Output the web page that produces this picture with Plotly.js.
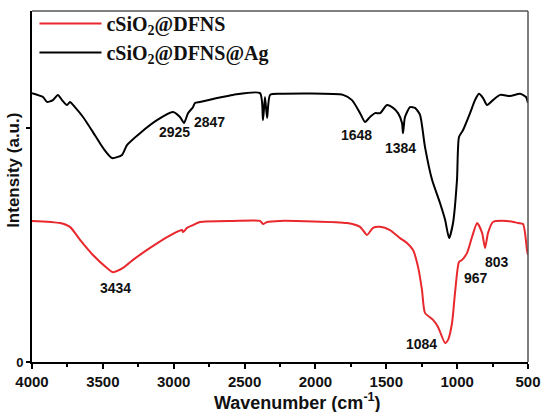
<!DOCTYPE html>
<html>
<head>
<meta charset="utf-8">
<script src="https://cdn.plot.ly/plotly-3.0.1.min.js"></script>
<style>html,body{margin:0;padding:0;background:#fff;}#chart{width:541px;height:412px;}</style>
</head>
<body>
<div id="chart"></div>
<script>
// Wavenumbers (cm-1) and intensities (a.u.)
var wnAg = [4000,3922,3894,3852,3817,3788,3753,3732,3697,3640,3570,3499,3435,3365,3330,3238,3118,3005,2956,2927,2899,2864,2850,2815,2694,2581,2391,2370,2356,2341,2320,2250,1805,1742,1685,1650,1615,1579,1544,1495,1452,1417,1389,1382,1368,1332,1297,1262,1227,1177,1121,1085,1057,1029,1001,987,958,909,874,846,817,789,747,697,627,556,514,500];
var intAg = [76.6,75.5,74.1,74.6,76.1,74.6,73.2,74.1,72.6,69.8,65.5,61.0,58.1,59.0,61.8,65.2,68.9,71.2,69.8,68.1,70.9,72.6,73.8,74.1,75.2,76.1,76.6,68.9,75.5,69.5,76.1,76.4,76.1,74.6,70.9,68.4,69.8,70.9,70.9,73.2,72.4,70.9,68.1,65.2,69.8,72.6,72.4,70.4,61.3,51.9,45.3,40.5,35.3,39.6,51.9,64.1,66.1,70.9,74.6,76.4,75.2,73.2,74.6,76.1,75.8,76.4,75.5,73.8];

var wnSi = [4000,3802,3732,3661,3570,3471,3428,3358,3287,3167,3047,2941,2934,2906,2864,2815,2581,2391,2370,2341,2250,1777,1685,1636,1594,1544,1474,1403,1354,1311,1276,1248,1227,1170,1135,1085,1064,1036,1015,987,965,930,895,859,824,803,782,747,648,570,535,507,500];
var intSi = [40.2,39.6,38.5,34.8,30.5,26.8,25.6,26.8,29.1,32.5,35.6,37.6,37.0,38.2,39.0,39.9,40.2,40.2,39.3,39.9,40.2,39.6,38.5,36.2,38.2,38.5,37.6,35.3,33.9,31.9,27.1,20.5,14.0,12.0,10.0,5.4,6.3,11.1,19.7,28.5,29.1,31.1,35.6,39.6,36.8,32.5,36.8,39.9,40.2,39.6,39.3,31.9,30.5];

var seriesNames = ['cSiO<sub>2</sub>@DFNS', 'cSiO<sub>2</sub>@DFNS@Ag'];

// Peak labels
var peakText = ['3434','2925','2847','1648','1384','1084','967','803'];
var peakX =    [3414, 2998, 2744, 1713, 1403, 1255, 867, 718];
var peakY =    [21.1, 65.5, 68.4, 64.7, 61.0, 5.1, 23.9, 28.5];

var xTickVals = [4000,3500,3000,2500,2000,1500,1000,500];
var yTickVals = [0, 66.7];
var yTickText = ['0', ''];
var xTitle = 'Wavenumber (cm<sup>-1</sup>)';
var yTitle = 'Intensity (a.u.)';

var traces = [
  {x: wnSi, y: intSi, type: 'scatter', mode: 'lines', name: seriesNames[0],
   line: {color: '#e8282d', width: 2, shape: 'spline', smoothing: 0.6}},
  {x: wnAg, y: intAg, type: 'scatter', mode: 'lines', name: seriesNames[1],
   line: {color: '#000000', width: 2, shape: 'spline', smoothing: 0.6}}
];

var boldSans = function(sz){ return {family: 'Liberation Sans, Arial, sans-serif', size: sz, color: '#111', weight: 'bold'}; };

var annotations = peakText.map(function(t, i){
  return {x: peakX[i], y: peakY[i], xref: 'x', yref: 'y', text: t, showarrow: false,
          xanchor: 'center', yanchor: 'middle', font: boldSans(14)};
});
annotations.push({x: 0.536, y: -0.112, xref: 'paper', yref: 'paper', text: xTitle, showarrow: false,
                  xanchor: 'center', yanchor: 'middle', font: boldSans(18)});
annotations.push({x: -0.036, y: 0.545, xref: 'paper', yref: 'paper', text: yTitle, showarrow: false,
                  textangle: -90, xanchor: 'center', yanchor: 'middle', font: boldSans(17)});

var layout = {
  width: 541, height: 412,
  margin: {l: 32, r: 13, t: 11, b: 50, autoexpand: false},
  paper_bgcolor: '#fff', plot_bgcolor: '#fff',
  showlegend: true,
  legend: {x: 0.005, y: 1.02, xanchor: 'left', yanchor: 'top', bgcolor: 'rgba(0,0,0,0)',
           itemwidth: 62, tracegroupgap: 0,
           font: {family: 'Liberation Serif, Times New Roman, serif', size: 20, color: '#111', weight: 'bold'}},
  xaxis: {range: [4000, 500], tickvals: xTickVals, ticks: 'outside', ticklen: 5, tickwidth: 2, tickcolor: '#000',
          minor: {dtick: 250, ticks: 'outside', ticklen: 3, tickwidth: 2, tickcolor: '#000', showgrid: false},
          showline: true, linewidth: 2, linecolor: '#000', showgrid: false, zeroline: false,
          tickfont: boldSans(15)},
  yaxis: {range: [0, 100], tickvals: yTickVals, ticktext: yTickText, ticks: 'outside', ticklen: 4, tickwidth: 1.5, tickcolor: '#000',
          showline: true, linewidth: 2, linecolor: '#000', showgrid: false, zeroline: false,
          tickfont: boldSans(13)},
  shapes: [
    {type: 'line', xref: 'paper', yref: 'paper', x0: 0, x1: 1, y0: 1, y1: 1, line: {color: '#555', width: 1.5}},
    {type: 'line', xref: 'paper', yref: 'paper', x0: 1, x1: 1, y0: 0, y1: 1, line: {color: '#555', width: 1.5}}
  ],
  annotations: annotations
};

Plotly.newPlot('chart', traces, layout, {displayModeBar: false, staticPlot: true});
</script>
</body>
</html>
